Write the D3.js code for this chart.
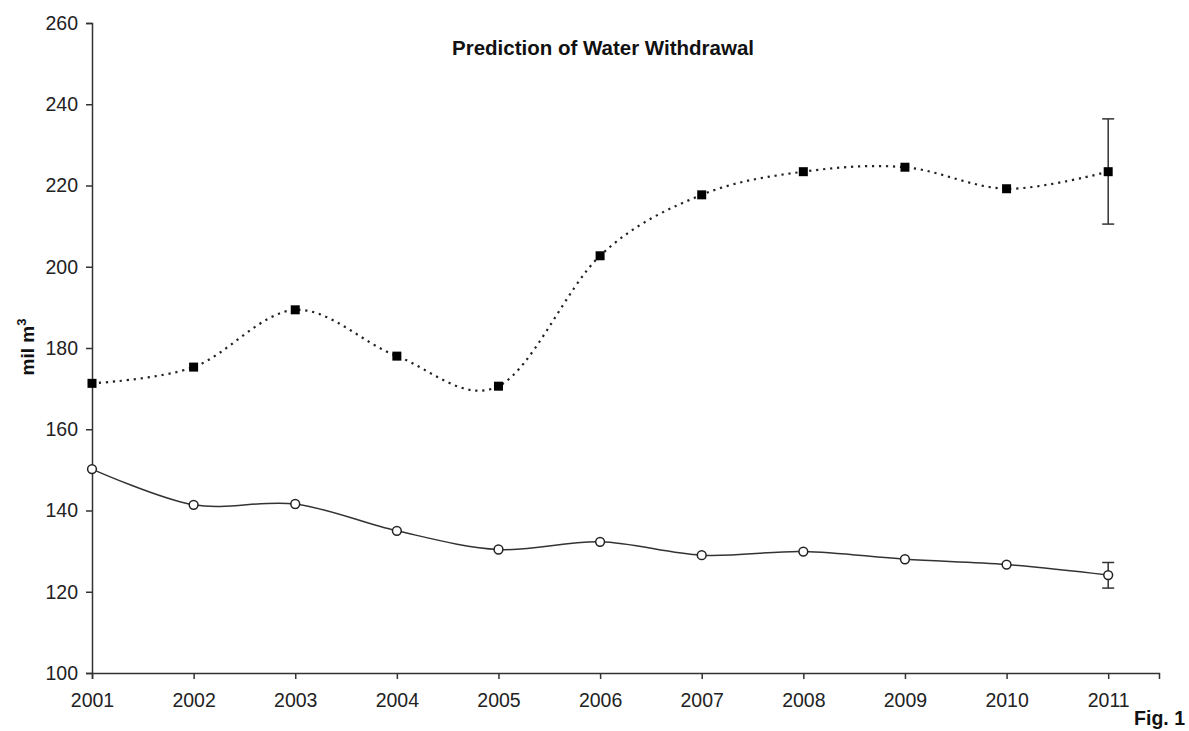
<!DOCTYPE html>
<html>
<head>
<meta charset="utf-8">
<script src="https://cdn.jsdelivr.net/npm/d3@7"></script>
<style>
    body { margin: 0; background: #fff; }
    text { font-family: "Liberation Sans", Arial, sans-serif; }
</style>
</head>
<body>
<div id="chart"></div>
<script>
// values
const years = [2001, 2002, 2003, 2004, 2005, 2006, 2007, 2008, 2009, 2010, 2011];
const upperSeries = [171.3, 175.3, 189.4, 178.0, 170.6, 202.7, 217.7, 223.4, 224.5, 219.2, 223.4];
const lowerSeries = [150.2, 141.4, 141.6, 135.0, 130.4, 132.3, 129.0, 129.9, 128.0, 126.7, 124.1];

// error bars only on the last (predicted) year
const errorYears = [2011];
const upperErrLow = [210.5];
const upperErrHigh = [236.4];
const lowerErrLow = [120.9];
const lowerErrHigh = [127.2];

const yTicks = [100, 120, 140, 160, 180, 200, 220, 240, 260];

class WithdrawalChart {
    constructor(parentElement) {
        this.parentElement = parentElement;
        this.initVis();
    }

    initVis() {
        let vis = this;

        vis.margin = { top: 23, right: 30, bottom: 58, left: 92 };
        vis.width = 1189 - vis.margin.left - vis.margin.right;
        vis.height = 731 - vis.margin.top - vis.margin.bottom;

        vis.svg = d3.select("#" + vis.parentElement)
                    .append("svg")
                    .attr("width", 1189)
                    .attr("height", 731);

        vis.chartArea = vis.svg.append("g")
                    .attr("transform", `translate(${vis.margin.left}, ${vis.margin.top})`);

        vis.x = d3.scaleLinear()
                    .domain([2001, 2011.5])
                    .range([0, vis.width]);

        vis.y = d3.scaleLinear()
                    .domain([100, 260])
                    .range([vis.height, 0]);

        vis.svg.append("text")
                .attr("x", 603)
                .attr("y", 55)
                .attr("text-anchor", "middle")
                .style("font-size", "20.5px")
                .style("font-weight", "bold")
                .style("fill", "#111")
                .text("Prediction of Water Withdrawal");

        let yLabel = vis.svg.append("text")
                .attr("transform", "translate(34, 347) rotate(-90)")
                .attr("text-anchor", "middle")
                .style("font-size", "19px")
                .style("font-weight", "bold")
                .style("fill", "#111");
        yLabel.append("tspan").text("mil m");
        yLabel.append("tspan")
                .attr("dy", -8)
                .style("font-size", "13px")
                .text("3");

        vis.svg.append("text")
                .attr("x", 1185)
                .attr("y", 725)
                .attr("text-anchor", "end")
                .style("font-size", "19.5px")
                .style("font-weight", "bold")
                .style("fill", "#111")
                .text("Fig. 1");

        vis.updateVis();
    }

    updateVis() {
        let vis = this;

        let xAxis = vis.chartArea.append("g")
                .attr("class", "x-axis")
                .attr("transform", `translate(0, ${vis.height})`)
                .call(d3.axisBottom(vis.x)
                        .tickValues(years)
                        .tickFormat(d3.format("d"))
                        .tickSizeOuter(0)
                        .tickSize(6)
                        .tickPadding(14));

        let yAxis = vis.chartArea.append("g")
                .attr("class", "y-axis")
                .call(d3.axisLeft(vis.y)
                        .tickValues(yTicks)
                        .tickSizeOuter(0)
                        .tickSize(6)
                        .tickPadding(8));

        [xAxis, yAxis].forEach(ax => {
            ax.select(".domain").attr("stroke", "#333").attr("stroke-width", 1.5);
            ax.selectAll(".tick line").attr("stroke", "#333").attr("stroke-width", 1.5);
            ax.selectAll(".tick text")
                .style("font-family", "'Liberation Sans', Arial, sans-serif")
                .style("font-size", "19.5px")
                .style("fill", "#222");
        });

        let line = d3.line()
                .x((d, i) => vis.x(years[i]))
                .y(d => vis.y(d))
                .curve(d3.curveCardinal.tension(0));

        vis.chartArea.append("path")
                .datum(upperSeries)
                .attr("fill", "none")
                .attr("stroke", "#222")
                .attr("stroke-width", 2.2)
                .attr("stroke-dasharray", "2.2,4.8")
                .attr("d", line);

        vis.chartArea.append("path")
                .datum(lowerSeries)
                .attr("fill", "none")
                .attr("stroke", "#333")
                .attr("stroke-width", 1.5)
                .attr("d", line);

        vis.drawErrorBars(upperErrLow, upperErrHigh);
        vis.drawErrorBars(lowerErrLow, lowerErrHigh);

        vis.chartArea.selectAll(".sq")
                .data(upperSeries)
                .join("rect")
                .attr("class", "sq")
                .attr("x", (d, i) => vis.x(years[i]) - 4.5)
                .attr("y", d => vis.y(d) - 4.5)
                .attr("width", 9)
                .attr("height", 9)
                .attr("fill", "#000");

        vis.chartArea.selectAll(".dot")
                .data(lowerSeries)
                .join("circle")
                .attr("class", "dot")
                .attr("cx", (d, i) => vis.x(years[i]))
                .attr("cy", d => vis.y(d))
                .attr("r", 4.4)
                .attr("fill", "#fff")
                .attr("stroke", "#222")
                .attr("stroke-width", 1.5);
    }

    drawErrorBars(lows, highs) {
        let vis = this;
        let cap = 6;

        errorYears.forEach((yr, i) => {
            let g = vis.chartArea.append("g")
                    .attr("stroke", "#333")
                    .attr("stroke-width", 1.5);
            let cx = vis.x(yr);
            g.append("line")
                .attr("x1", cx).attr("x2", cx)
                .attr("y1", vis.y(lows[i])).attr("y2", vis.y(highs[i]));
            g.append("line")
                .attr("x1", cx - cap).attr("x2", cx + cap)
                .attr("y1", vis.y(lows[i])).attr("y2", vis.y(lows[i]));
            g.append("line")
                .attr("x1", cx - cap).attr("x2", cx + cap)
                .attr("y1", vis.y(highs[i])).attr("y2", vis.y(highs[i]));
        });
    }
}

new WithdrawalChart("chart");
</script>
</body>
</html>
